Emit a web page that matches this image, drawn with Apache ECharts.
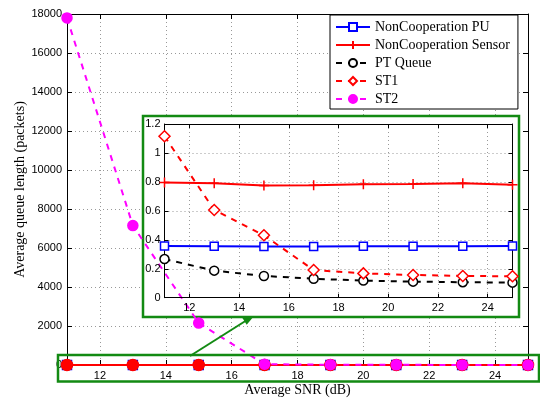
<!DOCTYPE html>
<html><head><meta charset="utf-8">
<script src="https://cdn.jsdelivr.net/npm/echarts@6/dist/echarts.min.js"></script>
<style>html,body{margin:0;padding:0;background:#fff}#c{width:540px;height:399px}</style>
</head><body><div id="c"></div>
<script>
var snr = [11, 13, 15, 17, 19, 21, 23, 25];
var xTicks = [12, 14, 16, 18, 20, 22, 24];
var puQueue = [0.358, 0.356, 0.353, 0.354, 0.355, 0.355, 0.355, 0.357];
var sensorQueue = [0.795, 0.79, 0.775, 0.777, 0.783, 0.785, 0.79, 0.78];
var ptQueue = [0.267, 0.187, 0.15, 0.131, 0.118, 0.111, 0.107, 0.104];
var st1Queue = [1.115, 0.606, 0.431, 0.191, 0.168, 0.157, 0.15, 0.148];
var st2Queue = [17800, 7150, 2150, 40, 15, 8, 5, 3];
var names = ['NonCooperation PU', 'NonCooperation Sensor', 'PT Queue', 'ST1', 'ST2'];

function pairs(v) { return snr.map(function (x, i) { return [x, v[i]]; }); }

var serif = 'Liberation Serif';
var sans = 'Liberation Sans';
var plusPath = 'path://M0,-10L0,10M-10,0L10,0';

function axisCommon(extra) {
  var o = {
    axisLine: { show: true, onZero: false, lineStyle: { color: '#000', width: 1 } },
    axisTick: { show: true, inside: true, length: 5, lineStyle: { color: '#000' } },
    axisLabel: { color: '#000', fontFamily: sans, fontSize: 11 },
    splitLine: { show: false }
  };
  for (var k in extra) o[k] = extra[k];
  return o;
}

var styles = [
  { color: '#0000ff', type: 'solid', symbol: 'rect', size: 8, fill: '#fff' },
  { color: '#ff0000', type: 'solid', symbol: plusPath, size: 10, fill: '#ff0000' },
  { color: '#000000', type: [6, 6], symbol: 'circle', size: 9, fill: '#fff' },
  { color: '#ff0000', type: [6, 6], symbol: 'diamond', size: 11, fill: '#fff' },
  { color: '#ff00ff', type: [6, 6], symbol: 'circle', size: 9, fill: '#ff00ff' }
];

var insetData = [puQueue, sensorQueue, ptQueue, st1Queue];
var mainData = [puQueue, sensorQueue, ptQueue, st1Queue, st2Queue];

var series = [];
// inset series (listed first so legend uses their style)
insetData.forEach(function (v, i) {
  var s = styles[i];
  series.push({
    name: names[i], type: 'line', xAxisIndex: 2, yAxisIndex: 2,
    data: pairs(v), z: 5,
    symbol: s.symbol, symbolSize: s.size, showAllSymbol: true,
    lineStyle: { color: s.color, width: 2, type: s.type },
    itemStyle: { color: s.fill, borderColor: s.color, borderWidth: 1.5 },
    animation: false
  });
});
// main plot series
mainData.forEach(function (v, i) {
  var s = styles[i];
  var mainSym = s.symbol, mainSize = s.size + 1, mainFill = s.fill;
  if (i === 3) { mainSym = 'circle'; mainSize = 11; mainFill = '#ff0000'; }
  series.push({
    name: names[i], type: 'line', xAxisIndex: 0, yAxisIndex: 0,
    data: pairs(v), z: 2,
    symbol: mainSym, symbolSize: mainSize, showAllSymbol: true,
    lineStyle: { color: s.color, width: 2, type: s.type },
    itemStyle: { color: mainFill, borderColor: s.color, borderWidth: 1.5 },
    animation: false
  });
});

var dotted = { show: true, lineStyle: { color: '#999', type: [1, 3], width: 1 } };

var option = {
  animation: false,
  backgroundColor: '#fff',
  grid: [
    { left: 67, right: 12, top: 14, bottom: 34, outerBoundsMode: 'none', containLabel: false },
    { left: 164.5, right: 27.5, top: 124, bottom: 101.3, outerBoundsMode: 'none', containLabel: false }
  ],
  legend: {
    data: names, orient: 'vertical', left: 330, top: 15, z: 20,
    backgroundColor: '#fff', borderColor: '#000', borderWidth: 1,
    padding: [5, 8, 3, 5], itemGap: 4, itemWidth: 34, itemHeight: 10,
    textStyle: { fontFamily: serif, fontSize: 14, color: '#000' }
  },
  xAxis: [
    axisCommon({ gridIndex: 0, type: 'value', min: 11, max: 25, position: 'bottom',
      name: 'Average SNR (dB)', nameLocation: 'middle', nameGap: 18, nameMoveOverlap: false,
      nameTextStyle: { fontFamily: serif, fontSize: 14, color: '#000' },
      axisTick: { show: true, inside: true, length: 5, customValues: xTicks, lineStyle: { color: '#000' } },
      axisLabel: { color: '#000', fontFamily: sans, fontSize: 11, margin: 5, customValues: xTicks },
      splitLine: dotted }),
    axisCommon({ gridIndex: 0, type: 'value', min: 11, max: 25, position: 'top',
      axisTick: { show: true, inside: true, length: 5, customValues: xTicks, lineStyle: { color: '#000' } },
      axisLabel: { show: false } }),
    axisCommon({ gridIndex: 1, type: 'value', min: 11, max: 25, position: 'bottom', z: 3,
      axisTick: { show: true, inside: true, length: 4, customValues: xTicks, lineStyle: { color: '#000' } },
      axisLabel: { color: '#000', fontFamily: sans, fontSize: 11, margin: 5, customValues: xTicks },
      splitLine: dotted }),
    axisCommon({ gridIndex: 1, type: 'value', min: 11, max: 25, position: 'top', z: 3,
      axisTick: { show: true, inside: true, length: 4, customValues: xTicks, lineStyle: { color: '#000' } },
      axisLabel: { show: false } })
  ],
  yAxis: [
    axisCommon({ gridIndex: 0, type: 'value', min: 0, max: 18000, interval: 2000, position: 'left',
      name: 'Average queue length (packets)', nameLocation: 'middle', nameGap: 40, nameMoveOverlap: false,
      nameTextStyle: { fontFamily: serif, fontSize: 14, color: '#000' },
      axisLabel: { color: '#000', fontFamily: sans, fontSize: 11, margin: 5,
        formatter: function (v) { return String(v); } },
      splitLine: dotted }),
    axisCommon({ gridIndex: 0, type: 'value', min: 0, max: 18000, interval: 2000, position: 'right',
      axisLabel: { show: false } }),
    axisCommon({ gridIndex: 1, type: 'value', min: 0, max: 1.2, interval: 0.2, position: 'left', z: 3,
      axisTick: { show: true, inside: true, length: 4, lineStyle: { color: '#000' } },
      axisLabel: { color: '#000', fontFamily: sans, fontSize: 11, margin: 4 },
      splitLine: dotted }),
    axisCommon({ gridIndex: 1, type: 'value', min: 0, max: 1.2, interval: 0.2, position: 'right', z: 3,
      axisTick: { show: true, inside: true, length: 4, lineStyle: { color: '#000' } },
      axisLabel: { show: false } })
  ],
  graphic: [
    { type: 'rect', z: 1, shape: { x: 143, y: 116, width: 376, height: 201 },
      style: { fill: '#fff', stroke: '#138a13', lineWidth: 2.5 } },
    { type: 'rect', z: 30, shape: { x: 58, y: 355, width: 481, height: 26.5 },
      style: { fill: 'none', stroke: '#138a13', lineWidth: 2.5 } },
    { type: 'line', z: 30, shape: { x1: 190, y1: 356, x2: 247, y2: 320 },
      style: { stroke: '#138a13', lineWidth: 2 } },
    { type: 'polygon', z: 30, shape: { points: [[254, 316], [246.7, 324.7], [242.4, 318]] },
      style: { fill: '#138a13' } }
  ],
  series: series
};

var chart = echarts.init(document.getElementById('c'), null, { renderer: 'canvas' });
chart.setOption(option);
</script>
</body></html>
